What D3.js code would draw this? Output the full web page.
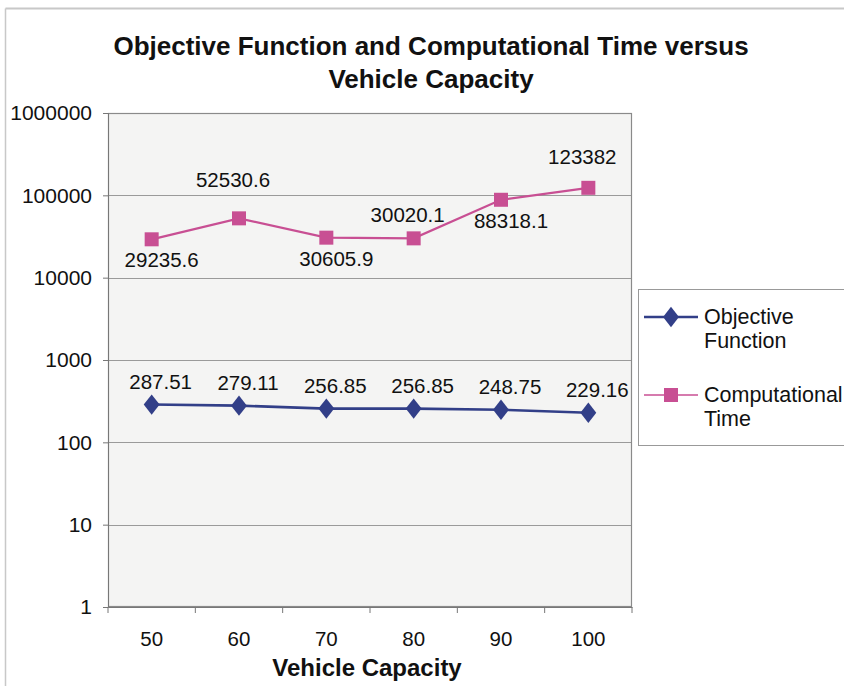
<!DOCTYPE html>
<html><head><meta charset="utf-8">
<script src="https://cdn.jsdelivr.net/npm/d3@7"></script>
<style>
html,body{margin:0;padding:0;background:#fff;}
text{font-family:"Liberation Sans",Arial,sans-serif;fill:#111;}
</style></head>
<body>
<svg id="c" width="844" height="686"></svg>
<script>
const categories = [50, 60, 70, 80, 90, 100];
const objectiveFunction = [287.51, 279.11, 256.85, 256.85, 248.75, 229.16];
const computationalTime = [29235.6, 52530.6, 30605.9, 30020.1, 88318.1, 123382];
const yTicks = [1, 10, 100, 1000, 10000, 100000, 1000000];
const seriesNames = [["Objective", "Function"], ["Computational", "Time"]];
const titleLines = ["Objective Function and Computational Time versus", "Vehicle Capacity"];
const xTitle = "Vehicle Capacity";
// label placement (style): side of marker for the Computational Time labels
const ctLabelSide = ["below", "above", "below", "above", "below", "above"];

const svg = d3.select("#c");
const L = 108, R = 632, T = 113, B = 607;
const blue = "#323f88", pink = "#c84f93";

// outer chart frame
svg.append("line").attr("x1",5.5).attr("x2",844).attr("y1",8.5).attr("y2",8.5).attr("stroke","#c8c8c8").attr("stroke-width",2);
svg.append("line").attr("x1",5.5).attr("x2",5.5).attr("y1",8.5).attr("y2",686).attr("stroke","#c8c8c8").attr("stroke-width",1.5);

const x = d3.scaleBand().domain(categories).range([L, R]).padding(0);
const y = d3.scaleLog().domain([1, 1e6]).range([B, T]);
const cx = d => x(d) + x.bandwidth()/2;

// plot area
svg.append("rect").attr("x",L).attr("y",T).attr("width",R-L).attr("height",B-T).attr("fill","#f4f4f3");
svg.append("g").selectAll("line").data(yTicks.slice(1)).join("line")
  .attr("x1",L).attr("x2",R).attr("y1",d=>Math.round(y(d))+0.5).attr("y2",d=>Math.round(y(d))+0.5)
  .attr("stroke","#9a9a9a").attr("stroke-width",1);
svg.append("rect").attr("x",L+0.5).attr("y",T+0.5).attr("width",R-L-1).attr("height",B-T-1)
  .attr("fill","none").attr("stroke","#8a8a8a").attr("stroke-width",1.2);

// y axis
const yAxis = svg.append("g").attr("transform",`translate(${L},0)`)
  .call(d3.axisLeft(y).tickValues(yTicks).tickFormat(d3.format("d")).tickSize(5).tickPadding(11));
yAxis.select(".domain").attr("stroke","#777");
yAxis.selectAll(".tick line").attr("stroke","#777");
yAxis.selectAll("text").attr("font-size",21).attr("fill","#111").attr("font-family","Liberation Sans, Arial, sans-serif");

// x axis
const xAxis = svg.append("g").attr("transform",`translate(0,${B})`)
  .call(d3.axisBottom(x).tickSize(0).tickPadding(24));
xAxis.select(".domain").attr("stroke","#777");
xAxis.selectAll("text").attr("font-size",20.5).attr("fill","#111").attr("font-family","Liberation Sans, Arial, sans-serif");
// tick marks at category boundaries
svg.append("g").selectAll("line").data(categories.concat(["end"])).join("line")
  .attr("x1",(d,i)=>L + i*x.bandwidth()).attr("x2",(d,i)=>L + i*x.bandwidth())
  .attr("y1",B).attr("y2",B+6).attr("stroke","#777");

// lines
const line = d3.line().x((d,i)=>cx(categories[i])).y(d=>y(d));
svg.append("path").datum(objectiveFunction).attr("d",line).attr("fill","none").attr("stroke",blue).attr("stroke-width",2.6);
svg.append("path").datum(computationalTime).attr("d",line).attr("fill","none").attr("stroke",pink).attr("stroke-width",2.2);

// markers
const diamond = d3.symbol().type(d3.symbolDiamond).size(120);
svg.append("g").selectAll("path").data(objectiveFunction).join("path")
  .attr("d",diamond).attr("transform",(d,i)=>`translate(${cx(categories[i])},${y(d)}) scale(1.35,1)`).attr("fill",blue);
svg.append("g").selectAll("rect").data(computationalTime).join("rect")
  .attr("x",(d,i)=>cx(categories[i])-7).attr("y",d=>y(d)-7).attr("width",14).attr("height",14).attr("fill",pink);

// data labels
svg.append("g").selectAll("text").data(objectiveFunction).join("text")
  .attr("x",(d,i)=>cx(categories[i])+9).attr("y",d=>y(d)-16)
  .attr("text-anchor","middle").attr("font-size",20.5).text(d=>d3.format(".2f")(d));
svg.append("g").selectAll("text").data(computationalTime).join("text")
  .attr("x",(d,i)=>cx(categories[i])+ (ctLabelSide[i]==="below"? 10 : -6))
  .attr("y",(d,i)=>ctLabelSide[i]==="below" ? y(d)+28 : y(d)-(i===1?31:(i===5?24:16)))
  .attr("text-anchor","middle").attr("font-size",20.5).text(d=>String(d));

// titles
svg.append("g").selectAll("text").data(titleLines).join("text")
  .attr("x",431).attr("y",(d,i)=>55+i*33).attr("text-anchor","middle")
  .attr("font-size",26).attr("font-weight","bold").text(d=>d);
svg.append("text").attr("x",367).attr("y",676).attr("text-anchor","middle")
  .attr("font-size",24).attr("font-weight","bold").text(xTitle);

// legend
const lg = svg.append("g");
lg.append("rect").attr("x",638.5).attr("y",289.5).attr("width",210).attr("height",156)
  .attr("fill","#fff").attr("stroke","#999").attr("stroke-width",1);
const lgY = [317, 395];
const lgCol = [blue, pink];
seriesNames.forEach((nm,i)=>{
  lg.append("line").attr("x1",644).attr("x2",698).attr("y1",lgY[i]).attr("y2",lgY[i])
    .attr("stroke",lgCol[i]).attr("stroke-width",i===0?2.6:1.6);
  if(i===0) lg.append("path").attr("d",diamond).attr("transform",`translate(671,${lgY[i]}) scale(1.35,1)`).attr("fill",blue);
  else lg.append("rect").attr("x",664).attr("y",lgY[i]-7).attr("width",14).attr("height",14).attr("fill",pink);
  nm.forEach((t,j)=>lg.append("text").attr("x",704).attr("y",lgY[i]+7+j*24).attr("font-size",21.5).text(t));
});
</script>
</body></html>
